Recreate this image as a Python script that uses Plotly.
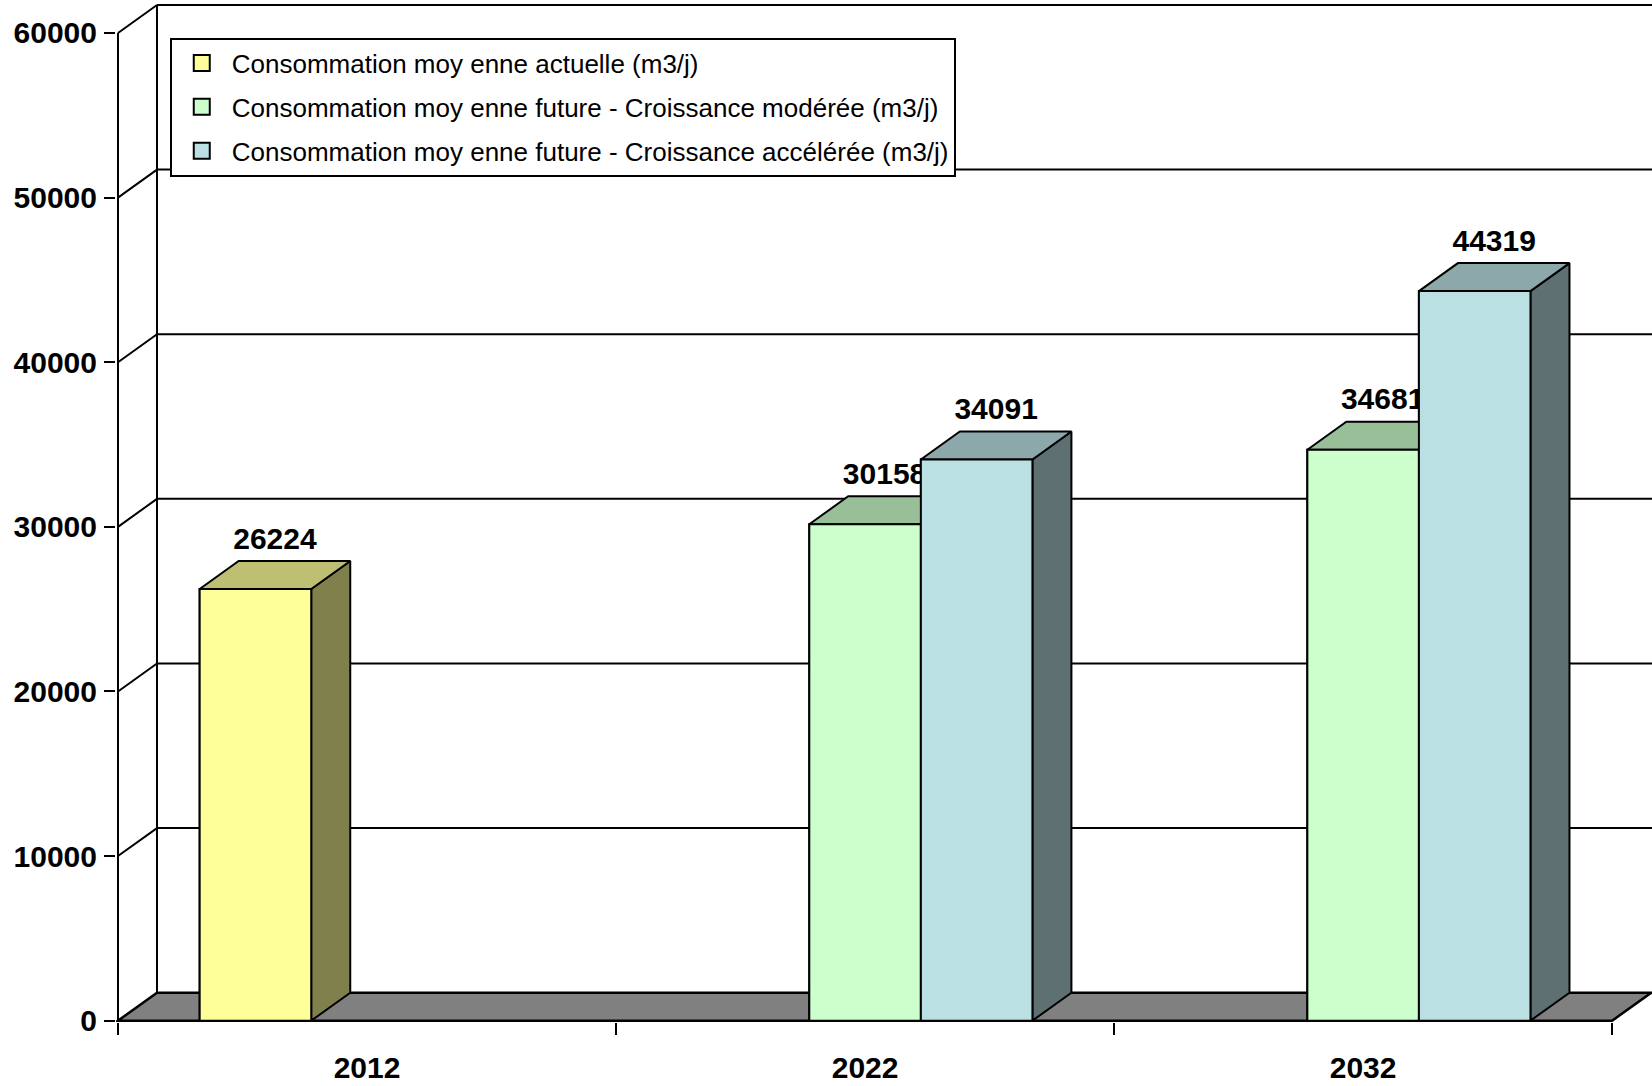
import plotly.graph_objects as go

# ---- data -------------------------------------------------------------
years = ["2012", "2022", "2032"]
conso_actuelle = [26224, None, None]
conso_moderee = [None, 30158, 34681]
conso_acceleree = [None, 34091, 44319]

series_names = [
    "Consommation moy enne actuelle (m3/j)",
    "Consommation moy enne future - Croissance modérée (m3/j)",
    "Consommation moy enne future - Croissance accélérée (m3/j)",
]
y_ticks = [0, 10000, 20000, 30000, 40000, 50000, 60000]

# ---- styling ----------------------------------------------------------
front_colors = ["#FFFF99", "#CCFFCC", "#BBE0E3"]
top_colors = ["#BFBF73", "#99BF99", "#8CA8AA"]
side_colors = ["#80804D", "#668066", "#5E7072"]

BOLD_FONT = "Liberation Sans, Arial, sans-serif"
TEXT_FONT = "Liberation Sans, Arial, sans-serif"
BOLD_SIZE = 30

BARGAP = 0.328          # space between category groups
DX = 0.0783             # depth offset along x (category units)
DY = 1700               # depth offset along y (value units)
LABEL_LIFT = 300        # gap between bar top and its value label (value units)
X_RANGE = [-0.504, 2.58]
Y_RANGE = [-80, 61820]
Y_TOP = y_ticks[-1]

all_series = [conso_actuelle, conso_moderee, conso_acceleree]
cat_idx = list(range(len(years)))
n_series = len(all_series)
group_w = 1 - BARGAP
bar_w = group_w / n_series

fig = go.Figure()

# front faces as grouped bars
for k, (name, vals) in enumerate(zip(series_names, all_series)):
    fig.add_trace(go.Bar(
        x=cat_idx, y=vals, name=name, showlegend=False,
        marker=dict(color=front_colors[k], line=dict(color="black", width=2)),
        hoverinfo="skip",
    ))

# legend swatches (square keys)
for k, name in enumerate(series_names):
    fig.add_trace(go.Scatter(
        x=[None], y=[None], mode="markers", name=name, legendgroup=f"s{k}",
        marker=dict(symbol="square", size=16, color=front_colors[k],
                    line=dict(color="black", width=2)),
        hoverinfo="skip",
    ))


def poly(xs, ys, fill):
    return go.Scatter(
        x=xs + [xs[0]], y=ys + [ys[0]], mode="lines", fill="toself",
        fillcolor=fill, line=dict(color="black", width=2),
        showlegend=False, hoverinfo="skip",
    )


# 3-D faces, drawn left to right so nearer faces overlap correctly
for i in cat_idx:
    for k, vals in enumerate(all_series):
        v = vals[i]
        if v is None:
            continue
        x0 = i - group_w / 2 + k * bar_w
        x1 = x0 + bar_w
        fig.add_trace(poly([x1, x1 + DX, x1 + DX, x1], [0, DY, v + DY, v], side_colors[k]))
        fig.add_trace(poly([x0, x1, x1 + DX, x0 + DX], [v, v, v + DY, v + DY], top_colors[k]))
        fig.add_trace(poly([x0, x1, x1, x0], [0, 0, v, v], front_colors[k]))
        fig.add_trace(go.Scatter(
            x=[(x0 + x1) / 2 + DX / 2], y=[v + DY + LABEL_LIFT], mode="text",
            text=[str(v)], textposition="top center", cliponaxis=False,
            textfont=dict(family=BOLD_FONT, size=BOLD_SIZE, color="black", weight="bold"),
            showlegend=False, hoverinfo="skip",
        ))

# ---- walls and floor --------------------------------------------------
shapes = []
x_left = X_RANGE[0] + 0.004
x_right = x_left + len(years)
# floor
shapes.append(dict(
    type="path", layer="below", xref="x", yref="y",
    path=(f"M{x_left},0 L{x_right},0 L{x_right + DX},{DY} "
          f"L{x_left + DX},{DY} Z"),
    fillcolor="#808080", line=dict(color="black", width=2.5),
))
# back-wall gridlines and left-wall diagonals
for v in y_ticks[1:]:
    shapes.append(dict(type="line", layer="below", xref="x", yref="y",
                       x0=x_left + DX, x1=X_RANGE[1] + 1, y0=v + DY, y1=v + DY,
                       line=dict(color="black", width=2)))
    shapes.append(dict(type="line", layer="below", xref="x", yref="y",
                       x0=x_left, x1=x_left + DX, y0=v, y1=v + DY,
                       line=dict(color="black", width=2)))
# back-wall left edge
shapes.append(dict(type="line", layer="below", xref="x", yref="y",
                   x0=x_left + DX, x1=x_left + DX, y0=DY, y1=Y_TOP + DY,
                   line=dict(color="black", width=2)))
# front value axis
shapes.append(dict(type="line", layer="below", xref="x", yref="y",
                   x0=x_left, x1=x_left, y0=0, y1=Y_TOP,
                   line=dict(color="black", width=2)))

fig.update_layout(
    width=1652, height=1086,
    margin=dict(l=116, r=0, t=3, b=64),
    paper_bgcolor="white", plot_bgcolor="white",
    barmode="group", bargap=BARGAP, bargroupgap=0,
    shapes=shapes,
    showlegend=True,
    legend=dict(
        x=0.035, y=0.966, xanchor="left", yanchor="top",
        bgcolor="white", bordercolor="black", borderwidth=2,
        font=dict(family=TEXT_FONT, size=26, color="black"),
        tracegroupgap=7, traceorder="grouped", itemsizing="trace",
        itemwidth=50,
    ),
    xaxis=dict(
        range=X_RANGE, tickmode="array", tickvals=cat_idx, ticktext=years,
        ticks="outside", ticklen=12, tickcolor="rgba(0,0,0,0)",
        minor=dict(tickmode="array", tickvals=[c - 0.5 for c in cat_idx] + [len(years) - 0.5],
                   ticks="outside", ticklen=12, tickwidth=2, tickcolor="black",
                   showgrid=False),
        showline=False, showgrid=False, zeroline=False, automargin=False,
        tickfont=dict(family=BOLD_FONT, size=BOLD_SIZE, color="black", weight="bold"),
        ticklabelstandoff=7, fixedrange=True,
    ),
    yaxis=dict(
        range=Y_RANGE, tickmode="array", tickvals=y_ticks,
        ticktext=[str(t) for t in y_ticks],
        ticks="outside", ticklen=11, tickwidth=2, tickcolor="black",
        showline=False, showgrid=False, zeroline=False, automargin=False,
        tickfont=dict(family=BOLD_FONT, size=BOLD_SIZE, color="black", weight="bold"),
        ticklabelstandoff=1, fixedrange=True,
    ),
)

fig.write_html("out.html")
